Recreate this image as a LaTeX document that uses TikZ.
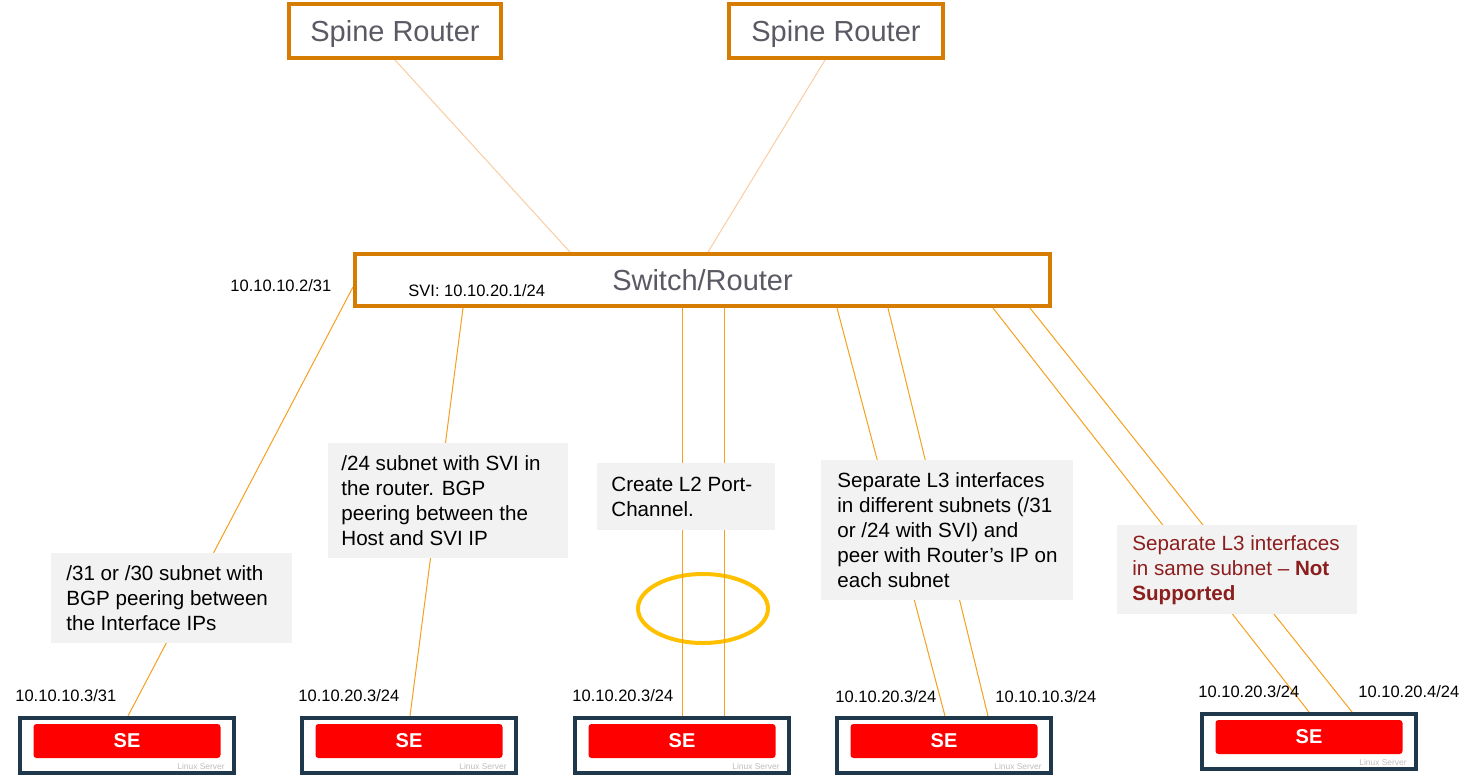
\documentclass[tikz,border=0pt]{standalone}
\usepackage{fontspec}
\setmainfont{Liberation Sans}
\usepackage{tikz}
\usetikzlibrary{shapes.geometric}
\usetikzlibrary{calc,backgrounds}
\usetikzlibrary{positioning}
\usepackage{xcolor}
\definecolor{routerorange}{RGB}{214,124,0}
\definecolor{routergray}{RGB}{90,90,100}
\definecolor{servernavy}{RGB}{32,56,76}
\definecolor{sered}{RGB}{255,0,0}
\definecolor{osgray}{RGB}{190,190,190}
\definecolor{notegray}{RGB}{242,242,242}
\definecolor{notered}{RGB}{140,30,30}
\definecolor{linkorange}{RGB}{245,160,30}
\definecolor{uplinkpale}{RGB}{250,205,160}
\definecolor{lagyellow}{RGB}{255,192,0}
\tikzstyle{fabric}=[
  x=0.5pt,y=-0.5pt,font=\fontsize{10.3}{12.5}\selectfont
]
\tikzstyle{router}=[
  draw=routerorange,line width=2pt,fill=white,text=routergray,inner sep=0pt,font=\fontsize{14.5}{17}\selectfont
]
\tikzstyle{server}=[
  draw=servernavy,line width=2pt,fill=white,inner sep=0pt,minimum width=107pt,minimum height=27.5pt
]
\tikzstyle{sebar}=[
  fill=sered,rounded corners=1.5pt,inner sep=0pt,minimum width=93.5pt,minimum height=17pt,text=white,font=\fontsize{10}{12}\selectfont\bfseries
]
\tikzstyle{oslabel}=[
  text=osgray,inner sep=0pt,anchor=east,font=\fontsize{4.2}{5}\selectfont
]
\tikzstyle{iplabel}=[
  inner sep=0pt,anchor=west,font=\fontsize{8.25}{10}\selectfont
]
\tikzstyle{note}=[
  fill=notegray,inner sep=0pt,anchor=north west
]
\tikzstyle{notetext}=[
  inner sep=0pt,anchor=west,align=left
]
\tikzstyle{uplink}=[
  draw=uplinkpale,line width=0.5pt
]
\tikzstyle{leaflink}=[
  draw=linkorange,line width=0.5pt
]
\tikzstyle{lagring}=[
  draw=lagyellow,line width=2pt,ellipse,inner sep=0pt,minimum width=65pt,minimum height=34.5pt
]

\begin{document}
\begin{tikzpicture}[fabric]
    \useasboundingbox (0,0) rectangle (1478,778);
      % routers
      \node (spine1) at (395,31) [router,text depth=0pt,minimum width=106pt,minimum height=27pt] {Spine Router};
      \node (spine2) at (836,31) [router,text depth=0pt,minimum width=107pt,minimum height=27pt] {Spine Router};
      \node (sw) at (702.5,280) [router,minimum width=347.5pt,minimum height=26pt] {Switch/Router};
      \node (ipsw) at (230,286) [iplabel] {10.10.10.2/31};
      \node (ipsvi) at (408,291) [iplabel] {SVI: 10.10.20.1/24};
      % servers
      \node (se1) at (127,745.5) [server] {};
      \node (se1bar) at ($(se1)+(0,-4.5)$) [sebar] {SE};
      \node (se1os) at ($(se1.south east)+(-11,-9)$) [oslabel] {Linux Server};
      \node (se2) at (409,745.5) [server] {};
      \node (se2bar) at ($(se2)+(0,-4.5)$) [sebar] {SE};
      \node (se2os) at ($(se2.south east)+(-11,-9)$) [oslabel] {Linux Server};
      \node (se3) at (682,745.5) [server] {};
      \node (se3bar) at ($(se3)+(0,-4.5)$) [sebar] {SE};
      \node (se3os) at ($(se3.south east)+(-11,-9)$) [oslabel] {Linux Server};
      \node (se4) at (944,745.5) [server] {};
      \node (se4bar) at ($(se4)+(0,-4.5)$) [sebar] {SE};
      \node (se4os) at ($(se4.south east)+(-11,-9)$) [oslabel] {Linux Server};
      \node (se5) at (1309,741.5) [server] {};
      \node (se5bar) at ($(se5)+(0,-4.5)$) [sebar] {SE};
      \node (se5os) at ($(se5.south east)+(-11,-9)$) [oslabel] {Linux Server};
      \node (ip1) at (15,696) [iplabel] {10.10.10.3/31};
      \node (ip2) at (298,696) [iplabel] {10.10.20.3/24};
      \node (ip3) at (572,696) [iplabel] {10.10.20.3/24};
      \node (ip4a) at (835,697) [iplabel] {10.10.20.3/24};
      \node (ip4b) at (995,697) [iplabel] {10.10.10.3/24};
      \node (ip5a) at (1198,692) [iplabel] {10.10.20.3/24};
      \node (ip5b) at (1358,692) [iplabel] {10.10.20.4/24};
      % notes
      \node (note1) at (51,553) [note,minimum width=120.5pt,minimum height=45pt] {};
      \node (note1t) at ($(note1.west)+(15,0)$) [notetext] {/31 or /30 subnet with\\BGP peering between\\the Interface IPs};
      \node (note2) at (328,443) [note,minimum width=120pt,minimum height=57.5pt] {};
      \node (note2t) at ($(note2.west)+(13,0)$) [notetext] {/24 subnet with SVI in\\the router. BGP\\peering between the\\Host and SVI IP};
      \node (note3) at (597,463) [note,minimum width=89pt,minimum height=33.5pt] {};
      \node (note3t) at ($(note3.west)+(14,0)$) [notetext] {Create L2 Port-\\Channel.};
      \node (note4) at (821,460) [note,minimum width=126pt,minimum height=70pt] {};
      \node (note4t) at ($(note4.west)+(16,0)$) [notetext] {Separate L3 interfaces\\in different subnets (/31\\or /24 with SVI) and\\peer with Router’s IP on\\each subnet};
      \node (note5) at (1117,525) [note,minimum width=120pt,minimum height=44.5pt] {};
      \node (note5t) at ($(note5.west)+(15,0)$) [notetext,text=notered] {Separate L3 interfaces\\in same subnet – \textbf{Not}\\\textbf{Supported}};
    \begin{scope}[on background layer]
      \node (lag) at (703,608.5) [lagring] {};
      \draw [uplink] (spine1.south) -- ($(sw.north west)+(217,0)$);
      \draw [uplink] ($(spine2.south)+(-11,0)$) -- ($(sw.north west)+(355,0)$);
      \draw [leaflink] ($(sw.west)+(0,7)$) -- ($(se1.north)+(1,0)$);
      \draw [leaflink] ($(sw.south west)+(110,0)$) -- ($(se2.north)+(1,0)$);
      \draw [leaflink] ($(sw.south west)+(329,0)$) -- (se3.north);
      \draw [leaflink] ($(sw.south west)+(371,0)$) -- ($(se3.north)+(42,0)$);
      \draw [leaflink] ($(sw.south west)+(484,0)$) -- ($(se4.north)+(1,0)$);
      \draw [leaflink] ($(sw.south west)+(535,0)$) -- ($(se4.north)+(44,0)$);
      \draw [leaflink] ($(sw.south west)+(640,0)$) -- (se5.north);
      \draw [leaflink] ($(sw.south west)+(677,0)$) -- ($(se5.north)+(43,0)$);
    \end{scope}
\end{tikzpicture}
\end{document}
